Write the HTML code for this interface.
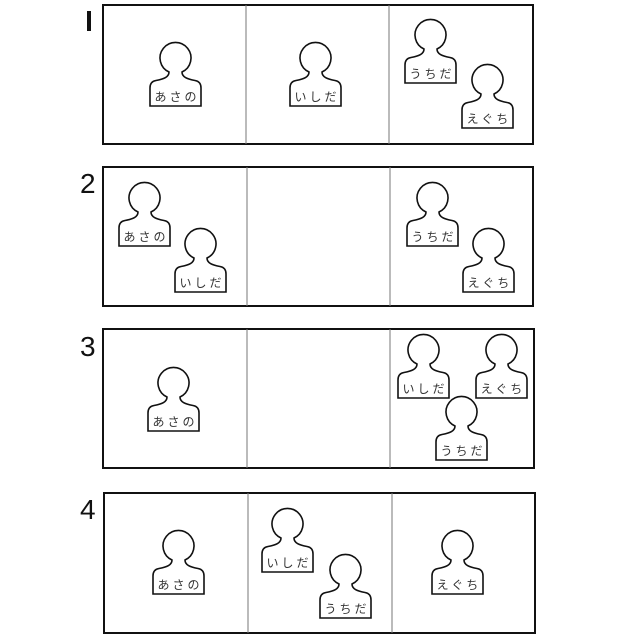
<!DOCTYPE html>
<html><head><meta charset="utf-8"><style>html,body{margin:0;padding:0;background:#fff}svg{display:block}</style></head>
<body>
<svg width="640" height="640" viewBox="0 0 640 640" xmlns="http://www.w3.org/2000/svg">
<defs>
<path id="p" d="M19,29 C19,34 14,36 6,37.5 Q0,38.5 0,45 L0,63 L51,63 L51,45 Q51,38.5 45,37.5 C37,36 32,34 32,29 A15.5,15.5 0 1 0 19,29 Z" fill="#fff" stroke="#111" stroke-width="1.6"/>
</defs>
<g fill="none" stroke="#111">
<rect x="103" y="5" width="430" height="139" stroke-width="2"/>
<rect x="103" y="167" width="430" height="139" stroke-width="2"/>
<rect x="103" y="329" width="431" height="139" stroke-width="2"/>
<rect x="104" y="493" width="431" height="140" stroke-width="2"/>
<g stroke="#777" stroke-width="1">
<line x1="246" y1="5" x2="246" y2="144"/><line x1="389" y1="5" x2="389" y2="144"/>
<line x1="247" y1="167" x2="247" y2="306"/><line x1="390" y1="167" x2="390" y2="306"/>
<line x1="247" y1="329" x2="247" y2="468"/><line x1="390" y1="329" x2="390" y2="468"/>
<line x1="248" y1="493" x2="248" y2="633"/><line x1="392" y1="493" x2="392" y2="633"/>
</g></g>
<g font-family="Liberation Sans, sans-serif" font-size="28" fill="#111">
<rect x="87" y="11" width="4" height="20"/>
<text x="80" y="193">2</text><text x="80" y="356">3</text><text x="80" y="519">4</text>
</g>
<g font-family="Liberation Sans, 'Noto Sans CJK JP', sans-serif" font-size="12" fill="#333" text-anchor="middle" letter-spacing="3">
<g transform="translate(150,43)"><use href="#p"/><text x="27" y="58">あさの</text></g>
<g transform="translate(290,43)"><use href="#p"/><text x="27" y="58">いしだ</text></g>
<g transform="translate(405,20)"><use href="#p"/><text x="27" y="58">うちだ</text></g>
<g transform="translate(462,65)"><use href="#p"/><text x="27" y="58">えぐち</text></g>

<g transform="translate(119,183)"><use href="#p"/><text x="27" y="58">あさの</text></g>
<g transform="translate(175,229)"><use href="#p"/><text x="27" y="58">いしだ</text></g>
<g transform="translate(407,183)"><use href="#p"/><text x="27" y="58">うちだ</text></g>
<g transform="translate(463,229)"><use href="#p"/><text x="27" y="58">えぐち</text></g>

<g transform="translate(148,368)"><use href="#p"/><text x="27" y="58">あさの</text></g>
<g transform="translate(398,335)"><use href="#p"/><text x="27" y="58">いしだ</text></g>
<g transform="translate(476,335)"><use href="#p"/><text x="27" y="58">えぐち</text></g>
<g transform="translate(436,397)"><use href="#p"/><text x="27" y="58">うちだ</text></g>

<g transform="translate(153,531)"><use href="#p"/><text x="27" y="58">あさの</text></g>
<g transform="translate(262,509)"><use href="#p"/><text x="27" y="58">いしだ</text></g>
<g transform="translate(320,555)"><use href="#p"/><text x="27" y="58">うちだ</text></g>
<g transform="translate(432,531)"><use href="#p"/><text x="27" y="58">えぐち</text></g>
</g>
</svg>
</body></html>
